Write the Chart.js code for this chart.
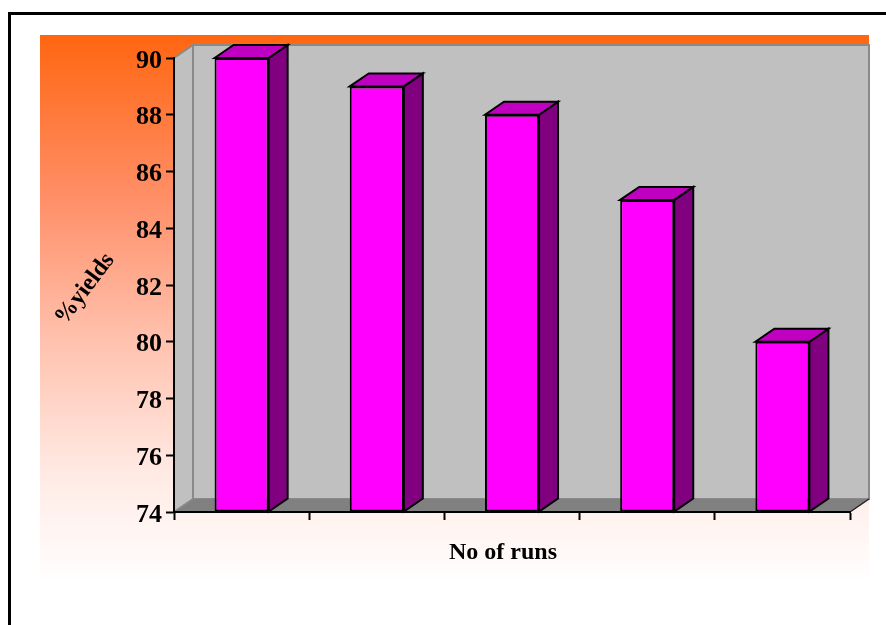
<!DOCTYPE html>
<html>
<head>
<meta charset="utf-8">
<script src="https://cdn.jsdelivr.net/npm/chart.js@4/dist/chart.umd.min.js"></script>
<style>
  html, body { margin: 0; padding: 0; background: #ffffff; }
  #wrap { width: 886px; height: 625px; position: relative; }
</style>
</head>
<body>
<div id="wrap"><canvas id="chart" width="886" height="625"></canvas></div>
<script>
// Run numbers along the x axis (labels themselves are not printed)
const runs = ['1', '2', '3', '4', '5'];
// Percentage yield for each run
const yields = [90, 89, 88, 85, 80];
// Value axis range and step
const yMin = 74;
const yMax = 90;
const yStep = 2;

const xTitle = 'No of runs';
const yTitle = '%yields';

const serif = "'Liberation Serif', 'Times New Roman', serif";
const DX = 19, DY = -13; // depth of the 3D box

function poly(ctx, pts, fill, stroke, lw) {
  ctx.beginPath();
  ctx.moveTo(pts[0][0], pts[0][1]);
  for (let i = 1; i < pts.length; i++) ctx.lineTo(pts[i][0], pts[i][1]);
  ctx.closePath();
  if (fill) { ctx.fillStyle = fill; ctx.fill(); }
  if (stroke) { ctx.strokeStyle = stroke; ctx.lineWidth = lw || 1; ctx.lineJoin = 'miter'; ctx.stroke(); }
}

const boxPlugin = {
  id: 'box3d',
  beforeDraw(chart) {
    const ctx = chart.ctx;
    const ca = chart.chartArea;
    ctx.save();
    ctx.fillStyle = '#ffffff';
    ctx.fillRect(0, 0, chart.width, chart.height);

    // faded orange backdrop
    const g = ctx.createLinearGradient(0, 35, 0, 582);
    g.addColorStop(0, '#ff6611');
    g.addColorStop(0.3, '#ff8f68');
    g.addColorStop(0.55, '#ffc0ac');
    g.addColorStop(0.8, '#ffeae4');
    g.addColorStop(1, '#ffffff');
    ctx.fillStyle = g;
    ctx.fillRect(40, 35, ca.right + DX - 40, 547);

    // outer frame
    ctx.strokeStyle = '#000000';
    ctx.lineWidth = 3;
    ctx.strokeRect(9.5, 13.5, 1000, 1000);

    const L = ca.left, R = ca.right, T = ca.top, B = ca.bottom;
    // back wall
    poly(ctx, [[L + DX, T + DY], [R + DX, T + DY], [R + DX, B + DY], [L + DX, B + DY]], '#c0c0c0', '#8a8a8a', 2);
    // side wall
    poly(ctx, [[L, T], [L + DX, T + DY], [L + DX, B + DY], [L, B]], '#c0c0c0', '#8a8a8a', 2);
    // floor
    poly(ctx, [[L, B], [L + DX, B + DY], [R + DX, B + DY], [R, B]], '#808080', null);
    ctx.strokeStyle = '#8a8a8a';
    ctx.lineWidth = 1.5;
    ctx.beginPath(); ctx.moveTo(L, B); ctx.lineTo(L + DX, B + DY); ctx.stroke();
    ctx.strokeStyle = '#222222';
    ctx.beginPath(); ctx.moveTo(R, B); ctx.lineTo(R + DX, B + DY); ctx.stroke();
    ctx.restore();
  },
  afterDatasetsDraw(chart) {
    const ctx = chart.ctx;
    const meta = chart.getDatasetMeta(0);
    ctx.save();
    meta.data.forEach((bar) => {
      const p = bar.getProps(['x', 'y', 'base', 'width'], true);
      const l = p.x - p.width / 2, r = p.x + p.width / 2, t = p.y, b = p.base;
      poly(ctx, [[r, t], [r + DX, t + DY], [r + DX, b + DY], [r, b]], '#800080', '#000000', 2);
      poly(ctx, [[l, t], [l + DX, t + DY], [r + DX, t + DY], [r, t]], '#c000c0', '#000000', 2);
    });
    ctx.restore();
  },
  afterDraw(chart) {
    const ctx = chart.ctx;
    const ca = chart.chartArea;
    ctx.save();
    ctx.fillStyle = '#000000';
    ctx.font = 'bold 24px ' + serif;
    ctx.textAlign = 'center';
    ctx.textBaseline = 'middle';
    ctx.fillText(xTitle, (ca.left + ca.right) / 2 - 9, ca.bottom + 41);
    ctx.translate(ca.left - 89, (ca.top + ca.bottom) / 2 + 4);
    ctx.rotate(-53 * Math.PI / 180);
    ctx.fillText(yTitle, 0, 0);
    ctx.restore();
  }
};

new Chart(document.getElementById('chart'), {
  type: 'bar',
  data: {
    labels: runs,
    datasets: [{
      data: yields,
      base: yMin,
      backgroundColor: '#ff00ff',
      borderColor: '#000000',
      borderWidth: 2,
      borderSkipped: false,
      categoryPercentage: 1.0,
      barPercentage: 0.4,
      clip: false
    }]
  },
  options: {
    responsive: false,
    animation: false,
    layout: { padding: { left: 0, top: 58, right: 36, bottom: 0 } },
    plugins: { legend: { display: false }, tooltip: { enabled: false } },
    scales: {
      x: {
        grid: { display: true, drawOnChartArea: false, drawTicks: true, tickLength: 8, tickColor: '#000000', tickWidth: 2, offset: true },
        border: { display: true, color: '#000000', width: 2 },
        ticks: { display: false },
        afterFit(scale) { scale.height = 113; }
      },
      y: {
        min: yMin,
        max: yMax,
        grid: { display: true, drawOnChartArea: false, drawTicks: true, tickLength: 8, tickColor: '#000000', tickWidth: 2 },
        border: { display: true, color: '#000000', width: 2 },
        ticks: {
          stepSize: yStep,
          color: '#000000',
          padding: 4,
          labelOffset: 3,
          font: { family: serif, size: 26, weight: 'bold' }
        },
        afterFit(scale) { scale.width = 174; }
      }
    }
  },
  plugins: [boxPlugin]
});
</script>
</body>
</html>
